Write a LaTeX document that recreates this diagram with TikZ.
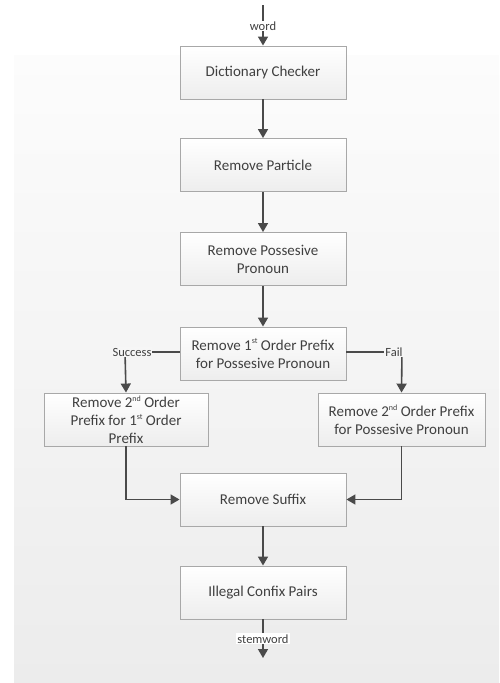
\documentclass[tikz,border=0pt]{standalone}
\usepackage{fontspec}
\setmainfont{Carlito}
\usetikzlibrary{arrows.meta,positioning}
\definecolor{txt}{HTML}{404040}
\definecolor{arr}{HTML}{4A4A4A}
\definecolor{bord}{HTML}{A8A8A8}
\definecolor{panelb}{HTML}{ECECEC}
\definecolor{panelt}{HTML}{FCFCFC}
\newcommand\supx[1]{\raisebox{0.85ex}{\fontsize{8}{8}\selectfont #1}}
\tikzset{
  procbox/.style={draw=bord, line width=0.9pt, top color=white, bottom color=black!7,
    minimum width=166pt, minimum height=53pt, align=center, text=txt,
    font=\fontsize{15}{18}\selectfont, inner sep=2pt},
  flow/.style={draw=arr, line width=1.6pt, -{Triangle[length=9pt,width=10pt]}},
  plainline/.style={draw=arr, line width=1.6pt},
  lbl/.style={text=txt, font=\fontsize{12.5}{14}\selectfont, inner sep=1pt},
}
\begin{document}
\begin{tikzpicture}[x=1pt,y=-1pt]
\useasboundingbox (0,0) rectangle (499,683);
\shade[top color=panelt, bottom color=panelb] (14,55) rectangle (499,683);

\node[procbox] (dict) at (263,72.5) {Dictionary Checker};
\node[procbox] (part) at (263,165) {Remove Particle};
\node[procbox] (poss) at (263,259) {Remove Possesive\\Pronoun};
\node[procbox] (pre1) at (263,353.5) {Remove 1\supx{st} Order Prefix\\for Possesive Pronoun};
\node[procbox, minimum width=164pt] (left) at (126,419.5) {Remove 2\supx{nd} Order\\Prefix for 1\supx{st} Order\\Prefix};
\node[procbox, minimum width=167pt] (right) at (401.5,419.5) {Remove 2\supx{nd} Order Prefix\\for Possesive Pronoun};
\node[procbox] (suff) at (263,499.5) {Remove Suffix};
\node[procbox] (ill) at (263,592.5) {Illegal Confix Pairs};

\coordinate (in) at (263,5);
\coordinate (out) at (263,658);
\coordinate (scorner) at (125,352);
\coordinate (fcorner) at (402,352);

\draw[flow] (in) -- node[lbl, fill=white, pos=0.52] (wordlbl) {word} (dict.north);
\draw[flow] (dict) -- (part);
\draw[flow] (part) -- (poss);
\draw[flow] (poss) -- (pre1);
\draw[plainline] (pre1.west |- scorner) -- (scorner);
\draw[flow] (scorner) -- (left.north);
\node[lbl, fill=panelt!60!panelb, xshift=7pt] (succ) at (scorner) {Success};
\draw[plainline] (pre1.east |- fcorner) -- (fcorner);
\draw[flow] (fcorner) -- (right.north);
\node[lbl, fill=panelt!60!panelb, xshift=-8pt] (fail) at (fcorner) {Fail};
\draw[flow] (left.south) |- (suff.west);
\draw[flow] (right.south) |- (suff.east);
\draw[flow] (suff) -- (ill);
\draw[flow] (ill.south) -- node[lbl, fill=white, pos=0.5] (stemlbl) {stemword} (out);
\end{tikzpicture}
\end{document}
